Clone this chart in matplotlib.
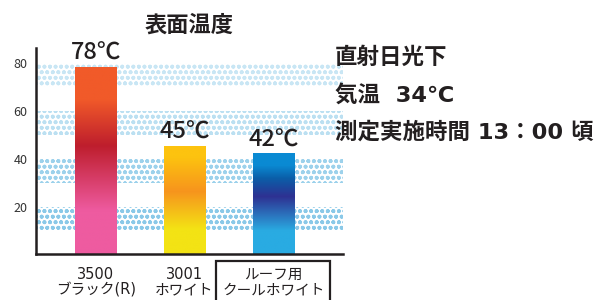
import matplotlib
matplotlib.use("Agg")
import matplotlib.pyplot as plt
import numpy as np
from matplotlib.colors import LinearSegmentedColormap

plt.rcParams["font.family"] = ["Noto Sans CJK JP", "DejaVu Sans"]
plt.rcParams["hatch.linewidth"] = 1.2

# data
categories = ["3500\nブラック(R)", "3001\nホワイト", "ルーフ用\nクールホワイト"]
temps = [78, 45, 42]
value_labels = ["78℃", "45℃", "42℃"]
band_ranges = [(10, 20), (30, 40), (50, 60), (70, 80)]
band_alpha = [0.9, 0.75, 0.5, 0.4]
yticks = [20, 40, 60, 80]
notes = ["直射日光下", "気温  34℃", "測定実施時間 13：00 頃"]

# gradient stops per bar, bottom (0) to top (1)
grad_stops = [
    [(0.0, "#EE5BA0"), (0.23, "#EE5BA0"), (0.58, "#BE1E2D"), (0.83, "#F15A29"), (1.0, "#F15A29")],
    [(0.0, "#F3E314"), (0.23, "#F3E314"), (0.58, "#F7941D"), (0.9, "#FDC30F"), (1.0, "#FDC30F")],
    [(0.0, "#29ABE2"), (0.23, "#29ABE2"), (0.57, "#2E3192"), (0.75, "#0B5EA8"), (0.88, "#0A8AD3"), (1.0, "#0A8AD3")],
]
latin_first = ["DejaVu Sans", "Noto Sans CJK JP"]

fig = plt.figure(figsize=(6.06, 3.0), dpi=100)
ax = fig.add_axes([0.0594, 0.1517, 0.5066, 0.688])

x = np.arange(len(temps))
width = 0.463

# dotted bands
for (lo, hi), a in zip(band_ranges, band_alpha):
    ax.axhspan(lo, hi, facecolor="none", edgecolor="#7EC4E6", linewidth=0,
               hatch="ooo", alpha=a, zorder=1)

# gradient bars
bars = ax.bar(x, temps, width=width, color="none", linewidth=0, zorder=2)
grad = np.linspace(0, 1, 256).reshape(-1, 1)
for bar, stops in zip(bars, grad_stops):
    cmap = LinearSegmentedColormap.from_list("g", stops)
    x0 = bar.get_x()
    ax.imshow(grad, cmap=cmap, origin="lower", aspect="auto", zorder=2,
              extent=[x0, x0 + bar.get_width(), 0, bar.get_height()])

for xi, v, lab in zip(x, temps, value_labels):
    ax.annotate(lab, (xi, v), xytext=(0, 2), textcoords="offset points",
                ha="center", va="bottom", fontsize=17, fontweight="medium",
                color="#231F20")

ax.set_xlim(-0.672, 2.785)
ax.set_ylim(0, 86.3)

for s in ["top", "right"]:
    ax.spines[s].set_visible(False)
for s in ["left", "bottom"]:
    ax.spines[s].set_linewidth(1.8)
    ax.spines[s].set_color("#231F20")

ax.set_yticks(yticks)
ax.set_yticklabels([str(t) for t in yticks], fontsize=9, color="#333333")
ax.tick_params(axis="y", length=0, pad=6)
ax.set_xticks(x)
ax.set_xticklabels(categories, fontsize=10.5, color="#231F20", linespacing=1.0,
                   family=latin_first)
ax.tick_params(axis="x", length=0, pad=9)
ax.get_xticklabels()[2].set_bbox(dict(boxstyle="square,pad=0.4", facecolor="none",
                                       edgecolor="#231F20", linewidth=1.6))

ax.set_title("表面温度", fontsize=16, fontweight="bold", color="#231F20", pad=12)

for i, t in enumerate(notes):
    fig.text(335 / 606, 0.81 - i * 0.125, t, fontsize=16.2, fontweight="bold",
             color="#231F20", va="center", ha="left", family=latin_first)

fig.savefig("out.png", dpi=100)
